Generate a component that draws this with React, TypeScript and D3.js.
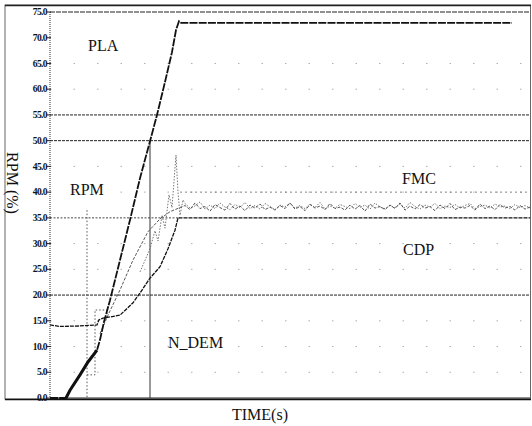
import React from "react";
import * as d3 from "d3";

const yTicks = [0, 5, 10, 15, 20, 25, 30, 35, 40, 45, 50, 55, 60, 65, 70, 75];
const darkGrid = [55, 50, 20];
const faintGrid = [65, 60, 45, 40, 30, 25, 15, 10, 5];

const plaT = [0, 1.6, 2.0, 3.0, 3.8, 4.7, 5.0, 5.4, 6.0, 7.0, 8.0, 9.0, 10.0, 10.7, 11.5, 12.2, 12.6, 12.9, 13.1, 46.2];
const plaV = [0, 0, 1.5, 4.5, 7.0, 9.3, 11.3, 14.8, 19.0, 26.8, 34.6, 42.7, 49.9, 55.0, 61.4, 67.2, 71.5, 73.2, 72.9, 72.9];

const cdpT = [0, 1.0, 3.0, 4.7, 4.9, 5.3, 7.0, 8.3, 9.0, 10.0, 11.0, 11.8, 12.5, 12.8, 48];
const cdpV = [14.2, 13.9, 14.0, 14.2, 15.2, 15.5, 16.1, 18.5, 20.4, 23.3, 25.5, 29.0, 32.6, 35.0, 35.0];

const rpmRiseT = [5.0, 5.8, 7.0, 8.3, 9.8, 11.0, 12.0, 13.0];
const rpmRiseV = [12.5, 16.1, 21.0, 26.8, 32.3, 34.8, 36.2, 37.0];

const fmcRiseT = [9.0, 10.0, 10.5, 10.8, 11.2, 11.5, 11.9, 12.2, 12.6, 12.8, 13.0, 13.3];
const fmcRiseV = [24.5, 29.0, 32.5, 30.5, 35.5, 33.0, 39.5, 37.0, 47.2, 40.0, 35.5, 38.5];

const steadyT0 = 13.5;
const steadyStep = 0.5;
const rpmSteady = [37.4, 36.6, 37.9, 36.8, 37.2, 36.3, 37.6, 37.0, 36.5, 37.8, 36.7, 37.3, 36.4, 37.5, 36.9, 37.7, 36.6, 37.1, 36.5, 37.4, 36.8, 37.9, 36.7, 37.2, 36.4, 37.6, 36.9, 37.3, 36.6, 37.8, 36.8, 37.1, 36.5, 37.5, 36.7, 37.4, 36.3, 37.7, 36.9, 37.2, 36.6, 37.5, 36.8, 37.9, 36.5, 37.3, 36.7, 37.6, 36.9, 37.2, 36.4, 37.5, 36.8, 37.8, 36.6, 37.1, 36.9, 37.4, 36.5, 37.7, 36.8, 37.3, 36.6, 37.6, 36.9, 37.2, 36.5, 37.4, 36.7, 37.1];
const fmcSteady = [37.8, 36.9, 37.3, 38.1, 36.7, 37.5, 36.8, 37.9, 37.1, 36.6, 37.6, 37.0, 38.0, 36.8, 37.4, 36.7, 37.8, 37.2, 36.6, 37.5, 37.1, 37.9, 36.9, 37.4, 36.8, 37.7, 37.0, 38.0, 36.7, 37.3, 36.9, 37.6, 37.2, 36.8, 37.8, 37.0, 37.5, 36.7, 37.9, 37.1, 36.8, 37.4, 37.0, 37.7, 36.9, 38.0, 37.2, 36.7, 37.5, 37.1, 37.8, 36.8, 37.3, 37.0, 37.6, 36.9, 37.4, 37.8, 36.8, 37.2, 37.5, 36.9, 37.7, 37.1, 37.3, 36.8, 37.6, 37.0, 37.4, 36.9];

const ndemT = [3.7, 4.5, 4.5, 5.7, 5.7];
const ndemV = [4.5, 4.5, 17.1, 17.1, 15.5];
const markerDotT = 3.7;
const markerDotTop = 36.5;
const markerSolidT = 10.0;
const markerSolidTop = 50;

const labels = [
  { text: "PLA", t: 3.8, v: 67.5 },
  { text: "RPM", t: 2.0, v: 39.5 },
  { text: "FMC", t: 35.2, v: 41.5 },
  { text: "CDP", t: 35.3, v: 27.8 },
  { text: "N_DEM", t: 11.8, v: 9.7 },
];

export default function App() {
  const x = d3.scaleLinear().domain([0, 48]).range([50, 530]);
  const y = d3.scaleLinear().domain([0, 75]).range([398, 12]);
  const mk = (ts: number[], vs: number[]) =>
    d3.line<number>().x((_, i) => x(ts[i])).y((v) => y(v))(vs) || "";
  const steadyTs = rpmSteady.map((_, i) => steadyT0 + i * steadyStep);
  const rpmT = rpmRiseT.concat(steadyTs);
  const rpmV = rpmRiseV.concat(rpmSteady);
  const fmcT = fmcRiseT.concat(steadyTs);
  const fmcV = fmcRiseV.concat(fmcSteady);
  const serif = "'Liberation Serif', 'Times New Roman', serif";

  return (
    <svg width={532} height={426} style={{ position: "absolute", left: 0, top: 0, background: "#fff" }}>
      <rect x={0} y={0} width={532} height={426} fill="#fff" />
      {/* frame */}
      <rect x={5} y={5} width={525.5} height={394} fill="none" stroke="#666" strokeWidth={1} />
      <line x1={5} x2={531} y1={399.5} y2={399.5} stroke="#111" strokeWidth={1.6} />
      <line x1={5} x2={531} y1={5.5} y2={5.5} stroke="#222" strokeWidth={1.3} />
      {/* faint grid */}
      {faintGrid.map((g) => (
        <line key={"f" + g} x1={x(0)} x2={x(48)} y1={y(g)} y2={y(g)} stroke="#999" strokeWidth={0.8} strokeDasharray="1.5,22" />
      ))}
      <line x1={x(13)} x2={x(48)} y1={y(40)} y2={y(40)} stroke="#666" strokeWidth={0.8} strokeDasharray="2,3" />
      {darkGrid.map((g) => (
        <line key={"d" + g} x1={x(0)} x2={x(48)} y1={y(g)} y2={y(g)} stroke="#222" strokeWidth={1} strokeDasharray="3,1" />
      ))}
      <line x1={x(0)} x2={x(13)} y1={y(35)} y2={y(35)} stroke="#333" strokeWidth={0.9} strokeDasharray="2,1.5" />
      <line x1={x(0)} x2={x(48)} y1={y(75)} y2={y(75)} stroke="#222" strokeWidth={1.2} strokeDasharray="5,1" />
      {/* axis */}
      <line x1={50} x2={50} y1={y(75)} y2={y(0)} stroke="#333" strokeWidth={1} strokeDasharray="1,1" />
      <line x1={50} x2={530} y1={y(0)} y2={y(0)} stroke="#222" strokeWidth={1} />
      {yTicks.map((t) => (
        <g key={"t" + t}>
          <line x1={47} x2={51} y1={y(t)} y2={y(t)} stroke="#222" strokeWidth={1} />
          <text x={47} y={y(t)} dy="0.33em" textAnchor="end" fontFamily={serif} fontWeight="bold" fontSize={9.5} fill="#111" letterSpacing={-0.6}>
            {t.toFixed(1)}
          </text>
        </g>
      ))}
      {/* markers */}
      <line x1={x(markerSolidT)} x2={x(markerSolidT)} y1={y(markerSolidTop)} y2={y(0)} stroke="#333" strokeWidth={1} />
      <line x1={x(markerDotT)} x2={x(markerDotT)} y1={y(markerDotTop)} y2={y(0)} stroke="#555" strokeWidth={1} strokeDasharray="1.5,2" />
      {/* N_DEM */}
      <path d={mk(ndemT, ndemV)} fill="none" stroke="#555" strokeWidth={1} strokeDasharray="1.5,2" />
      {/* CDP */}
      <path d={mk(cdpT, cdpV)} fill="none" stroke="#111" strokeWidth={1.3} strokeDasharray="4,1" />
      {/* FMC */}
      <path d={mk(fmcT, fmcV)} fill="none" stroke="#666" strokeWidth={0.9} strokeDasharray="1.5,1.5" />
      {/* RPM */}
      <path d={mk(rpmT, rpmV)} fill="none" stroke="#444" strokeWidth={0.9} strokeDasharray="3,1.5" />
      {/* PLA */}
      <path d={mk(plaT, plaV)} fill="none" stroke="#111" strokeWidth={1.8} strokeDasharray="8,1.2" />
      <path d={mk(plaT.slice(1, 6), plaV.slice(1, 6))} fill="none" stroke="#111" strokeWidth={3} />
      {/* labels */}
      {labels.map((l) => (
        <text key={l.text} x={x(l.t)} y={y(l.v)} fontFamily={serif} fontSize={16} fill="#111">
          {l.text}
        </text>
      ))}
      <text x={260} y={420} textAnchor="middle" fontFamily={serif} fontSize={16} fill="#111">
        TIME(s)
      </text>
      <text transform="translate(12,183) rotate(90)" textAnchor="middle" dominantBaseline="central" fontFamily={serif} fontSize={16} fill="#111">
        RPM (%)
      </text>
    </svg>
  );
}
